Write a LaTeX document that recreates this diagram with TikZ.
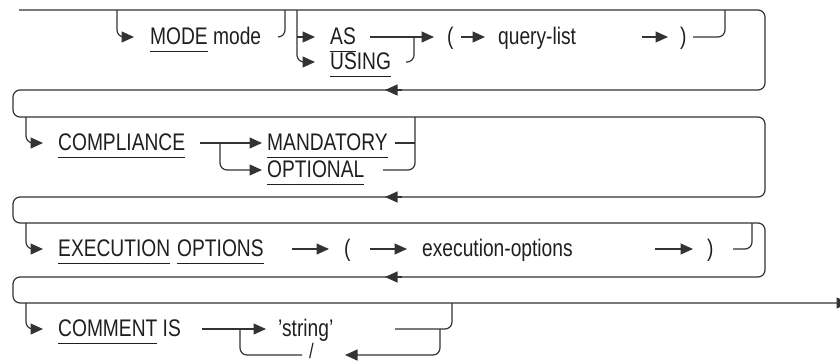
\documentclass[tikz,border=0pt]{standalone}
\usepackage{fontspec}
\setmainfont{Liberation Sans}[FakeStretch=0.8]
\usetikzlibrary{arrows.meta}
\newsavebox\kwbox
\newcommand\kw[1]{\sbox\kwbox{#1}\rlap{\rule[-7.6pt]{\wd\kwbox}{1.1pt}}\usebox\kwbox}
\tikzset{
  rail/.style={draw=black!80, line width=1.2pt, rounded corners=7pt},
  arr/.style={rail, -{Triangle[length=12.5pt,width=11pt]}},
  txt/.style={anchor=base west, inner sep=0pt, text=black!88, font=\fontsize{24}{28}\selectfont},
}
\begin{document}
\begin{tikzpicture}[x=1pt,y=-1pt]
\path[use as bounding box] (0,0) rectangle (840,362);
% ---------- frame coordinates
\coordinate (s)  at (19,10);
\coordinate (c1) at (765,10);  \coordinate (c2) at (765,90);
\coordinate (c3) at (13,90);   \coordinate (c4) at (13,117);
\coordinate (c5) at (765,117); \coordinate (c6) at (765,197);
\coordinate (c7) at (13,197);  \coordinate (c8) at (13,223);
\coordinate (c9) at (765,223); \coordinate (c10) at (765,277);
\coordinate (c11) at (13,277); \coordinate (c12) at (13,303);
\coordinate (e)  at (849,303);
\draw[arr] (s) -- (c1) -- (c2) -- (c3) -- (c4) -- (c5) -- (c6) -- (c7) -- (c8) -- (c9) -- (c10) -- (c11) -- (c12) -- (e);
% return arrows
\coordinate (ra1) at (402,90);  \coordinate (rb1) at (385,90);
\coordinate (ra2) at (402,197); \coordinate (rb2) at (385,197);
\coordinate (ra3) at (402,277); \coordinate (rb3) at (385,277);
\draw[arr] (ra1) -- (rb1);
\draw[arr] (ra2) -- (rb2);
\draw[arr] (ra3) -- (rb3);

% ---------- row 1
\node[txt] (mode) at (150,44.5) {\kw{MODE} mode};
\node[txt] (as) at (330,44.5) {\kw{AS}};
\node[txt] (using) at (330,69.5) {\kw{USING}};
\node[txt] (lp1) at (447,44.5) {(};
\node[txt] (ql) at (498,44.5) {query-list};
\node[txt] (rp1) at (680,44.5) {)};
\coordinate (m0) at (117,10);  \coordinate (m1) at (134,37);
\coordinate (m2) at (278,37);  \coordinate (m3) at (285,10);
\coordinate (a0) at (297,10);  \coordinate (a1) at (315,62);
\coordinate (a2) at (297,37);  \coordinate (a3) at (315,37);
\coordinate (a4) at (370,37);  \coordinate (a5) at (434,37);
\coordinate (u0) at (406,62);  \coordinate (u1) at (414,37);
\coordinate (q0) at (461,37);  \coordinate (q1) at (485,37);
\coordinate (q2) at (642,37);  \coordinate (q3) at (668,37);
\coordinate (q4) at (693,37);  \coordinate (q5) at (725,10);
\draw[arr] (m0) |- (m1);
\draw[rail] (m2) -| (m3);
\draw[arr] (a0) |- (a1);
\draw[arr] (a2) -- (a3);
\draw[arr] (a4) -- (a5);
\draw[rail] (u0) -| (u1);
\draw[arr] (q0) -- (q1);
\draw[arr] (q2) -- (q3);
\draw[rail] (q4) -| (q5);

% ---------- row 2
\node[txt] (comp) at (58,150.5) {\kw{COMPLIANCE}};
\node[txt] (mand) at (267,150.5) {\kw{MANDATORY}};
\node[txt] (opt) at (267,177.5) {\kw{OPTIONAL}};
\coordinate (b0) at (26,117);  \coordinate (b1) at (43,143);
\coordinate (b2) at (200,143); \coordinate (b3) at (262,143);
\coordinate (b4) at (220,143); \coordinate (b5) at (262,170);
\coordinate (b6) at (395,143); \coordinate (b7) at (415,143);
\coordinate (b8) at (383,170); \coordinate (b9) at (415,117);
\draw[arr] (b0) |- (b1);
\draw[arr] (b2) -- (b3);
\draw[arr] (b4) |- (b5);
\draw[rail] (b6) -- (b7);
\draw[rail] (b8) -| (b9);

% ---------- row 3
\node[txt] (exec) at (58,256.5) {\kw{EXECUTION}};
\node[txt] (opts) at (177,256.5) {\kw{OPTIONS}};
\node[txt] (lp2) at (344,256.5) {(};
\node[txt] (eo) at (422,256.5) {execution-options};
\node[txt] (rp2) at (707,256.5) {)};
\coordinate (x0) at (26,223);  \coordinate (x1) at (43,249);
\coordinate (x2) at (292,249); \coordinate (x3) at (329,249);
\coordinate (x4) at (370,249); \coordinate (x5) at (407,249);
\coordinate (x6) at (655,249); \coordinate (x7) at (693,249);
\coordinate (x8) at (733,249); \coordinate (x9) at (752,223);
\draw[arr] (x0) |- (x1);
\draw[arr] (x2) -- (x3);
\draw[arr] (x4) -- (x5);
\draw[arr] (x6) -- (x7);
\draw[rail] (x8) -| (x9);

% ---------- row 4
\node[txt] (comm) at (58,336.5) {\kw{COMMENT} IS};
\node[txt] (str) at (278,336.5) {'string'};
\node[txt, font=\fontsize{21}{24}\selectfont] (sl) at (309,358.5) {/};
\coordinate (k0) at (26,303);  \coordinate (k1) at (43,329);
\coordinate (k2) at (202,329); \coordinate (k3) at (266,329);
\coordinate (k4) at (302,355); \coordinate (k5) at (240,329);
\coordinate (k6) at (395,329); \coordinate (k7) at (452,303);
\coordinate (k8) at (440,329); \coordinate (k9) at (345,355);
\draw[arr] (k0) |- (k1);
\draw[arr] (k2) -- (k3);
\draw[rail] (k4) -| (k5);
\draw[rail] (k6) -| (k7);
\draw[arr] (k8) |- (k9);
\end{tikzpicture}
\end{document}
